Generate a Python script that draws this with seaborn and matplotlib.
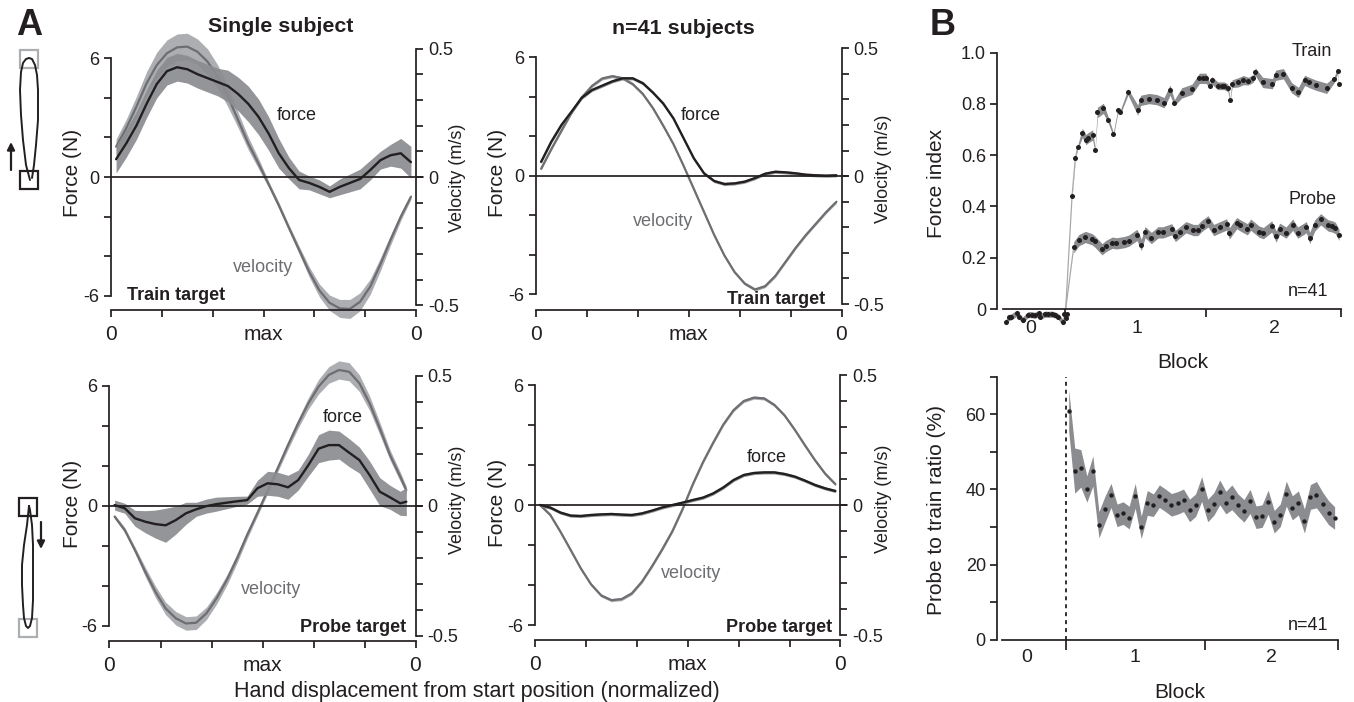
import numpy as np
import matplotlib
matplotlib.use("Agg")
import matplotlib.pyplot as plt
from matplotlib.patches import Rectangle
import seaborn as sns

# tick units along the reach (0 ... 3=max ... 6)
disp = [0.1, 0.3, 0.5, 0.7, 0.9, 1.1, 1.3, 1.5, 1.7, 1.9, 2.1, 2.3, 2.5, 2.7, 2.9,
        3.1, 3.3, 3.5, 3.7, 3.9, 4.1, 4.3, 4.5, 4.7, 4.9, 5.1, 5.3, 5.5, 5.7, 5.9]
disp_probe = disp[:-1] + [5.82]

# single subject, train target
s_train_vel = [0.118, 0.19, 0.274, 0.365, 0.436, 0.482, 0.505, 0.508, 0.488, 0.449, 0.391, 0.313, 0.222, 0.131, 0.053,
               -0.028, -0.11, -0.198, -0.284, -0.37, -0.442, -0.49, -0.512, -0.514, -0.486, -0.427, -0.34, -0.245, -0.155, -0.077]
s_train_vel_sem = [0.03, 0.035, 0.04, 0.045, 0.05, 0.052, 0.052, 0.052, 0.05, 0.05, 0.045, 0.04, 0.03, 0.025, 0.02,
                   0.012, 0.012, 0.012, 0.015, 0.02, 0.025, 0.03, 0.035, 0.037, 0.035, 0.03, 0.025, 0.02, 0.015, 0.01]
s_train_force = [0.9, 1.7, 2.6, 3.7, 4.7, 5.35, 5.55, 5.45, 5.2, 5.0, 4.8, 4.6, 4.2, 3.7, 3.05,
                 2.2, 1.2, 0.45, -0.15, -0.3, -0.5, -0.75, -0.5, -0.3, -0.1, 0.35, 0.85, 1.1, 1.2, 0.75]
s_train_force_sem = [0.7, 0.7, 0.7, 0.7, 0.7, 0.7, 0.7, 0.7, 0.7, 0.7, 0.7, 0.8, 0.85, 0.9, 0.9,
                     0.85, 0.75, 0.55, 0.45, 0.35, 0.35, 0.3, 0.4, 0.45, 0.5, 0.5, 0.45, 0.55, 0.75, 0.8]

# group, train target
g_train_vel = [0.029, 0.106, 0.178, 0.249, 0.308, 0.353, 0.382, 0.391, 0.383, 0.36, 0.321, 0.265, 0.197, 0.125, 0.04,
               -0.05, -0.14, -0.23, -0.31, -0.375, -0.42, -0.443, -0.43, -0.39, -0.335, -0.28, -0.23, -0.185, -0.14, -0.1]
g_train_force = [0.7, 1.72, 2.57, 3.25, 3.95, 4.34, 4.56, 4.78, 4.93, 4.93, 4.68, 4.2, 3.65, 2.9, 1.89,
                 0.88, 0.12, -0.27, -0.42, -0.39, -0.3, -0.12, 0.1, 0.2, 0.17, 0.12, 0.05, 0.02, 0.0, 0.02]

# single subject, probe target
s_probe_vel = [-0.042, -0.094, -0.171, -0.254, -0.331, -0.395, -0.433, -0.453, -0.45, -0.414, -0.356, -0.286, -0.203, -0.112, -0.028,
               0.058, 0.145, 0.233, 0.317, 0.394, 0.458, 0.503, 0.522, 0.515, 0.471, 0.394, 0.297, 0.195, 0.112, 0.06]
s_probe_vel_sem = [0.008, 0.01, 0.012, 0.018, 0.022, 0.024, 0.026, 0.026, 0.026, 0.024, 0.022, 0.02, 0.018, 0.015, 0.012,
                   0.012, 0.014, 0.016, 0.018, 0.022, 0.028, 0.032, 0.035, 0.035, 0.032, 0.028, 0.024, 0.02, 0.018, 0.015]
s_probe_force = [0.03, -0.13, -0.63, -0.8, -0.92, -0.98, -0.72, -0.38, -0.18, -0.02, 0.08, 0.15, 0.22, 0.28, 0.87,
                 1.12, 1.07, 0.92, 1.28, 2.03, 2.85, 3.03, 3.03, 2.65, 2.28, 1.53, 0.7, 0.42, 0.12, 0.2]
s_probe_force_sem = [0.25, 0.25, 0.4, 0.55, 0.7, 0.85, 0.7, 0.55, 0.35, 0.35, 0.35, 0.3, 0.25, 0.2, 0.4,
                     0.6, 0.6, 0.6, 0.5, 0.55, 0.7, 0.75, 0.7, 0.7, 0.65, 0.7, 0.7, 0.6, 0.6, 0.7]

# group, probe target
g_probe_vel = [0.0, -0.038, -0.103, -0.173, -0.244, -0.305, -0.348, -0.366, -0.362, -0.34, -0.295, -0.235, -0.17, -0.1, -0.015,
               0.08, 0.165, 0.24, 0.31, 0.365, 0.4, 0.413, 0.41, 0.385, 0.345, 0.29, 0.23, 0.172, 0.12, 0.08]
g_probe_force = [0.0, -0.13, -0.38, -0.53, -0.55, -0.5, -0.47, -0.45, -0.48, -0.5, -0.42, -0.28, -0.12, 0.0, 0.12,
                 0.25, 0.37, 0.58, 0.88, 1.25, 1.5, 1.6, 1.63, 1.63, 1.55, 1.42, 1.22, 1.0, 0.83, 0.7]
g_vel_sem = 0.006
g_force_sem = 0.08

# force index, sets relative to the start of block 1
pre_x = [-9.75, -9.26, -8.94, -8.01, -7.57, -7.03, -6.16, -5.56, -5.07, -4.31, -4.2, -3.38, -2.83, -2.29, -1.74, -1.2, -0.49, -0.22, 0.0, 0.22]
pre_y = [-0.051, -0.033, -0.031, -0.017, -0.03, -0.043, -0.022, -0.022, -0.025, -0.017, -0.03, -0.02, -0.021, -0.02, -0.023, -0.03, -0.051, -0.02, -0.036, -0.021]
train_x = [1.04, 1.58, 1.96, 2.72, 3.32, 3.65, 4.41, 4.8, 5.18, 6.16, 6.98, 7.79, 8.56, 8.94, 10.19, 11.77, 12.26, 13.62, 14.88, 16.08, 17.06, 17.77,
           18.96, 20.65, 21.85, 22.4, 22.94, 23.6, 23.92, 24.85, 25.5, 25.9, 26.5, 26.87, 27.2, 28.17, 29.05, 29.86, 30.68, 31.0, 32.2, 33.79, 34.33, 35.59,
           36.95, 38.04, 39.07, 39.78, 40.93, 42.67, 43.92, 44.47, 44.63]
train_y = [0.441, 0.59, 0.631, 0.687, 0.661, 0.668, 0.679, 0.619, 0.767, 0.783, 0.736, 0.681, 0.778, 0.769, 0.847, 0.776, 0.814, 0.821, 0.817, 0.805, 0.854, 0.805,
           0.843, 0.857, 0.9, 0.9, 0.9, 0.871, 0.892, 0.871, 0.871, 0.871, 0.863, 0.815, 0.879, 0.884, 0.893, 0.889, 0.9, 0.926, 0.884, 0.879, 0.912, 0.918,
           0.863, 0.845, 0.892, 0.884, 0.873, 0.861, 0.896, 0.93, 0.876]
train_sem = [0.004, 0.006, 0.008, 0.018, 0.02, 0.02, 0.02, 0.008, 0.02, 0.02, 0.012, 0.008, 0.008, 0.008, 0.012, 0.02, 0.02, 0.02, 0.02, 0.02, 0.02, 0.012,
             0.02, 0.02, 0.02, 0.02, 0.02, 0.01, 0.015, 0.015, 0.015, 0.015, 0.015, 0.005, 0.015, 0.018, 0.018, 0.015, 0.015, 0.015, 0.02, 0.02, 0.02, 0.02,
             0.02, 0.02, 0.02, 0.02, 0.02, 0.02, 0.012, 0.01, 0.006]
probe_x = [1.31, 2.18, 3.22, 4.31, 4.74, 5.94, 6.59, 7.63, 8.28, 9.59, 10.35, 11.66, 12.37, 12.97, 14.0, 15.1, 15.91, 17.33, 17.93, 18.69,
           19.67, 20.87, 21.58, 22.23, 23.27, 24.2, 25.23, 26.32, 26.76, 27.96, 28.56, 29.7, 30.25, 31.61, 32.32, 33.68, 34.39, 34.99, 36.02, 37.11, 37.93,
           39.35, 39.89, 40.71, 41.69, 42.89, 43.6, 44.09, 44.69]
probe_y = [0.241, 0.269, 0.281, 0.272, 0.264, 0.233, 0.246, 0.259, 0.256, 0.261, 0.267, 0.289, 0.25, 0.3, 0.277, 0.299, 0.299, 0.311, 0.285, 0.3,
           0.319, 0.308, 0.308, 0.324, 0.342, 0.308, 0.319, 0.33, 0.295, 0.335, 0.326, 0.311, 0.329, 0.302, 0.296, 0.322, 0.283, 0.313, 0.298, 0.329, 0.298,
           0.319, 0.277, 0.326, 0.35, 0.326, 0.322, 0.316, 0.289]
pre_sem = 0.012
probe_sem = 0.022

# probe / train ratio per set
ratio_x = list(range(1, 46))
ratio_y = [61, 45, 45.6, 40.1, 44.9, 30.6, 34.7, 38.4, 33.1, 33.7, 32.5, 38.3, 29.9, 36.4, 35.8, 38.2, 37.1, 35.9, 36.4, 37.1, 34.4, 35.8, 40.1,
           34.4, 36.1, 39.2, 36.5, 37.9, 35.8, 34.3, 36.8, 32.6, 32.9, 36.6, 31.4, 33.1, 38.9, 35.1, 36.4, 31.6, 38.0, 38.6, 36.1, 33.8, 32.4]
ratio_sem = [5.5, 6, 5, 3.5, 4, 3.5, 3.5, 3.2, 3, 3, 3, 3.3, 3, 3.3, 3, 3, 3, 3, 3, 3, 3, 3, 3.3,
             3, 3, 3.3, 3, 3.3, 3, 3, 3.2, 3, 3, 3.2, 3, 3, 3.3, 3.2, 3.2, 3.2, 3.3, 3.5, 3.2, 3.2, 3]

# hand path schematics, in figure pixels
loop_up_x = [30, 26, 23, 21, 20, 21, 23, 26, 29, 32, 35, 37, 38, 38, 36, 34, 32]
loop_up_y = [180, 165, 140, 115, 90, 72, 63, 59, 58, 59, 65, 75, 90, 120, 145, 165, 178]
loop_down_x = [29, 27, 24, 22, 22, 23, 24, 26, 28, 30, 32, 33, 33, 33, 32, 30, 29]
loop_down_y = [506, 525, 545, 565, 585, 605, 618, 626, 628, 626, 618, 600, 570, 545, 525, 510, 506]

W, H = 1354, 702
INK = "#231F20"
VEL = "#6D6E71"
VEL_BAND = "#ACAEB1"
FORCE_BAND = "#8A8C8F"
LW = 1.25

sns.set_theme(style="ticks")
plt.rcParams["font.family"] = ["Liberation Sans", "DejaVu Sans"]
plt.rcParams["text.color"] = INK
plt.rcParams["axes.edgecolor"] = INK
plt.rcParams["axes.linewidth"] = LW
plt.rcParams["xtick.color"] = INK
plt.rcParams["ytick.color"] = INK
plt.rcParams["xtick.major.width"] = LW
plt.rcParams["ytick.major.width"] = LW

fig = plt.figure(figsize=(W / 100, H / 100), dpi=100)


def place(x0, x1, top, bottom):
    return fig.add_axes([x0 / W, 1 - bottom / H, (x1 - x0) / W, (bottom - top) / H])


def label(x, y, s, size=13, **kw):
    kw.setdefault("ha", "center")
    kw.setdefault("va", "center")
    fig.text(x / W, 1 - y / H, s, fontsize=size, **kw)


def motion_panel(x0, x1, f6, zero, fm6, v5, vm5, base, xs, vel, vel_sem, force, force_sem):
    ax = place(x0, x1, v5, base)
    k = 12 / (fm6 - f6)
    ax.set_ylim((zero - base) * k, (zero - v5) * k)
    ax.set_xlim(0, 6)
    tw = ax.twinx()
    kv = 1 / (vm5 - v5)
    tw.set_ylim((zero - base) * kv, (zero - v5) * kv)
    ax.set_zorder(tw.get_zorder() + 1)
    ax.patch.set_visible(False)

    xs = np.array(xs)
    vel, force = np.array(vel), np.array(force)
    vel_sem, force_sem = np.array(vel_sem), np.array(force_sem)
    tw.fill_between(xs, vel - vel_sem, vel + vel_sem, color=VEL_BAND, lw=0, clip_on=False)
    sns.lineplot(x=xs, y=vel, ax=tw, color=VEL, lw=1.6, clip_on=False, solid_joinstyle="round")
    ax.fill_between(xs, force - force_sem, force + force_sem, color=FORCE_BAND, lw=0, alpha=0.92, clip_on=False)
    ax.axhline(0, xmin=0, xmax=1.022, color=INK, lw=LW, clip_on=False, zorder=3)
    sns.lineplot(x=xs, y=force, ax=ax, color=INK, lw=1.7, clip_on=False, zorder=4, solid_joinstyle="round")

    ax.set_xticks(range(7), ["0", "", "", "max", "", "", "0"])
    ax.tick_params(axis="x", length=4.7, width=LW, pad=6, labelsize=15)
    ax.set_yticks(range(-6, 7, 2), ["-6", "", "", "0", "", "", "6"])
    ax.tick_params(axis="y", length=5, width=LW, pad=3.6, labelsize=13)
    tw.set_yticks(np.arange(-5, 6) / 10, ["-0.5"] + [""] * 4 + ["0"] + [""] * 4 + ["0.5"])
    tw.tick_params(axis="y", length=5, width=LW, pad=3.6, labelsize=13)
    ax.set_xlabel("")
    ax.set_ylabel("")
    tw.set_xlabel("")
    tw.set_ylabel("")
    ax.spines["top"].set_visible(False)
    ax.spines["right"].set_visible(False)
    ax.spines["left"].set_bounds(-6, 6)
    tw.spines["top"].set_visible(False)
    tw.spines["left"].set_visible(False)
    tw.spines["bottom"].set_visible(False)
    tw.spines["right"].set_bounds(-0.5, 0.5)
    return ax


motion_panel(111, 416, 57.7, 177, 295, 48.3, 305, 310, disp, s_train_vel, s_train_vel_sem, s_train_force, s_train_force_sem)
motion_panel(536, 841.5, 57.7, 175.7, 294.7, 48.3, 305, 310, disp, g_train_vel, [g_vel_sem] * 30, g_train_force, [g_force_sem] * 30)
motion_panel(109.5, 415.5, 386.7, 505.7, 626.7, 375.7, 635.7, 640.7, disp_probe, s_probe_vel, s_probe_vel_sem, s_probe_force, s_probe_force_sem)
motion_panel(535, 840.5, 386, 505, 626, 375, 635, 640, disp, g_probe_vel, [g_vel_sem] * 30, g_probe_force, [g_force_sem] * 30)

# B top: force index
px_set = 18.35 / 3
ax1 = place(1003, 1341, 52.7, 309)
ax1.set_xlim((1003 - 1065.7) / px_set, (1341 - 1065.7) / px_set)
ax1.set_ylim(0, 1)
pre_x_a, pre_y_a = np.array(pre_x), np.array(pre_y)
tr_x, tr_y, tr_s = np.array(train_x), np.array(train_y), np.array(train_sem)
pr_x, pr_y = np.array(probe_x), np.array(probe_y)
ax1.fill_between(pre_x_a, pre_y_a - pre_sem, pre_y_a + pre_sem, color=FORCE_BAND, lw=0, clip_on=False)
ax1.fill_between(tr_x, tr_y - tr_s, tr_y + tr_s, color=FORCE_BAND, lw=0, clip_on=False)
ax1.fill_between(pr_x, pr_y - probe_sem, pr_y + probe_sem, color=FORCE_BAND, lw=0, clip_on=False)
# thin rise from the baseline into both curves
sns.lineplot(x=[0.0] + train_x[:3], y=[0.0] + train_y[:3], ax=ax1, color="#A7A9AC", lw=0.9, estimator=None, errorbar=None)
sns.lineplot(x=[0.0] + probe_x[:1], y=[0.0] + probe_y[:1], ax=ax1, color="#A7A9AC", lw=0.9, estimator=None, errorbar=None)
for xs, ys in [(pre_x, pre_y), (train_x, train_y), (probe_x, probe_y)]:
    sns.scatterplot(x=xs, y=ys, ax=ax1, color=INK, s=13, linewidth=0, clip_on=False, zorder=5)
ax1.set_yticks([0, 0.2, 0.4, 0.6, 0.8, 1.0], ["0", "0.2", "0.4", "0.6", "0.8", "1.0"])
ax1.set_xticks([-0.1, 23, 45], ["", "", ""])
ax1.tick_params(axis="x", length=6, width=LW)
ax1.tick_params(axis="y", length=5, width=LW, pad=3, labelsize=13)
ax1.spines["top"].set_visible(False)
ax1.spines["right"].set_visible(False)
ax1.spines["left"].set_position(("outward", 4.3))
ax1.spines["left"].set_bounds(0, 1)

# B bottom: probe to train ratio
px_set2 = 18.13 / 3
ax2 = place(1001.7, 1337.7, 376.7, 639.7)
ax2.set_xlim(0.5 + (1001.7 - 1065.7) / px_set2, 0.5 + (1337.7 - 1065.7) / px_set2)
ax2.set_ylim(0, 70)
r_y, r_s = np.array(ratio_y), np.array(ratio_sem)
ax2.fill_between(ratio_x, r_y - r_s, r_y + r_s, color=FORCE_BAND, lw=0)
sns.scatterplot(x=ratio_x, y=ratio_y, ax=ax2, color=INK, s=10, linewidth=0, clip_on=False, zorder=5)
ax2.axvline(0.5, color=INK, lw=1.3, ls=(0, (2.2, 2.2)), zorder=3)
ax2.set_yticks(range(0, 71, 10), ["0", "", "20", "", "40", "", "60", ""])
ax2.set_xticks([0.5, 23.5, 45.5], ["", "", ""])
ax2.tick_params(axis="x", length=7, width=LW)
ax2.tick_params(axis="y", length=5, width=LW, pad=3, labelsize=13)
ax2.set_xlabel("")
ax2.spines["top"].set_visible(False)
ax2.spines["right"].set_visible(False)
ax2.spines["left"].set_position(("outward", 3.4))
ax2.spines["left"].set_bounds(0, 70)

# overlay in figure pixels for hand path schematics
ov = fig.add_axes([0, 0, 1, 1], zorder=-1)
ov.set_xlim(0, W)
ov.set_ylim(H, 0)
ov.axis("off")
for x, y, c in [(19.5, 50, VEL_BAND), (19.5, 171, INK), (18.5, 497.5, INK), (18.5, 618.5, VEL_BAND)]:
    ov.add_patch(Rectangle((x, y), 18.5, 18, fill=False, ec=c, lw=1.6))
ov.plot(loop_up_x, loop_up_y, color=INK, lw=1.4)
ov.plot(loop_down_x, loop_down_y, color=INK, lw=1.4)
ov.annotate("", xy=(11, 142), xytext=(11, 170), arrowprops=dict(arrowstyle="-|>", color=INK, lw=1.6, mutation_scale=11, shrinkA=0, shrinkB=0))
ov.annotate("", xy=(41, 549), xytext=(41, 522), arrowprops=dict(arrowstyle="-|>", color=INK, lw=1.6, mutation_scale=11, shrinkA=0, shrinkB=0))

# text
label(29, 35, "A", 26, fontweight="bold", va="baseline")
label(943, 35, "B", 26, fontweight="bold", va="baseline")
label(281, 27, "Single subject", 15.4, fontweight="bold")
label(683, 28, "n=41 subjects", 15.4, fontweight="bold")

label(297, 116, "force")
label(701, 116, "force")
label(343, 417, "force")
label(767, 458, "force")
label(263, 267, "velocity", color=VEL)
label(663, 222, "velocity", color=VEL)
label(271, 589, "velocity", color=VEL)
label(691, 573, "velocity", color=VEL)
label(127, 295, "Train target", fontweight="bold", ha="left")
label(776, 300, "Train target", fontweight="bold")
label(353, 627, "Probe target", fontweight="bold")
label(779, 627, "Probe target", fontweight="bold")

for x, y in [(72, 173), (497, 173), (72, 504), (497, 503)]:
    label(x, y, "Force (N)", 15, rotation=90)
for x, y in [(458, 178), (883, 169), (458, 500), (883, 499)]:
    label(x, y, "Velocity (m/s)", 13, rotation=90)
label(477, 692, "Hand displacement from start position (normalized)", 15.5)

label(1312, 52, "Train")
label(1313, 199, "Probe")
label(1308, 291, "n=41")
label(1308, 626, "n=41")
label(937, 183, "Force index", 15, rotation=90)
label(937, 510, "Probe to train ratio (%)", 15, rotation=90)
label(1183, 362, "Block", 15)
label(1180, 692, "Block", 15)
for x, s in [(1031, "0"), (1137, "1"), (1274, "2")]:
    label(x, 328, s, 14)
for x, s in [(1027, "0"), (1135, "1"), (1271, "2")]:
    label(x, 658, s, 14)

fig.savefig("out.png", dpi=100)
